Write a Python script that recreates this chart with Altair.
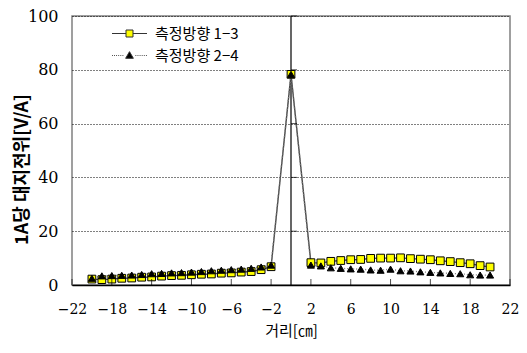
import altair as alt
import pandas as pd

x_vals = list(range(-20, -1)) + [0] + list(range(2, 21))
s13 = [2.2, 2.0, 2.2, 2.5, 2.6, 2.9, 3.0, 3.3, 3.5, 3.6, 3.8, 4.0, 4.1, 4.4, 4.5, 4.8, 5.0, 5.7, 6.8,
       78.3,
       8.3, 8.2, 8.8, 9.1, 9.4, 9.5, 9.9, 10.0, 10.0, 10.1, 9.8, 9.6, 9.4, 9.0, 8.7, 8.3, 7.9, 7.2, 6.7]
s24 = [2.5, 3.4, 3.5, 3.6, 3.7, 3.9, 4.2, 4.3, 4.5, 4.6, 4.8, 5.0, 5.3, 5.5, 5.7, 5.9, 6.2, 6.7, 7.4,
       78.3,
       7.4, 7.1, 6.4, 6.2, 6.0, 5.9, 5.6, 5.5, 5.9, 5.3, 5.2, 4.9, 4.7, 4.5, 4.3, 4.2, 3.8, 3.7, 3.7]
series_names = ["측정방향 1−3", "측정방향 2−4"]
x_ticks = [-22, -18, -14, -10, -6, -2, 2, 6, 10, 14, 18, 22]
y_ticks = [0, 20, 40, 60, 80, 100]

df13 = pd.DataFrame({"x": x_vals, "y": s13, "series": series_names[0]})
df24 = pd.DataFrame({"x": x_vals, "y": s24, "series": series_names[1]})

xs = alt.Scale(domain=[-22, 22], nice=False, zero=False)
ys = alt.Scale(domain=[0, 100], nice=False)

label_font = "DejaVu Serif"
kfont = "Noto Sans CJK KR"

x_enc = alt.X("x:Q", scale=xs, axis=alt.Axis(
    values=x_ticks, tickCount=len(x_ticks), ticks=False, grid=False,
    labelFont=label_font, labelFontSize=14,
    labelColor="black", labelPadding=17, labelOverlap=False, labelFlush=False,
    labelExpr="replace(datum.label, '-', '−')",
    domainColor="black", domainWidth=1.5,
    title="거리[㎝]", titleFont=kfont, titleFontSize=15, titleFontWeight="normal",
    titleColor="black", titleY=38, titleBaseline="top"))
y_enc = alt.Y("y:Q", scale=ys, axis=alt.Axis(
    values=y_ticks, ticks=False, grid=True, gridDash=[1, 2], gridColor="black",
    gridOpacity=1, gridWidth=1, labelFont=label_font, labelFontSize=16,
    labelColor="black", labelPadding=14, domain=False,
    title="1A당 대지전위[V/A]", titleFont=kfont, titleFontSize=18,
    titleFontWeight="bold", titleColor="black", titleX=-50, titleY=153,
    titleAlign="center", titleBaseline="middle"))

line13 = alt.Chart(df13).mark_line(color="#4a4a4a", strokeWidth=1.4).encode(x=x_enc, y=y_enc)
line24 = alt.Chart(df24).mark_line(color="#777777", strokeWidth=1.3, strokeDash=[1, 2]).encode(
    x="x:Q", y="y:Q")
pts13 = alt.Chart(df13).mark_point(shape="square", filled=True, fill="#FFFF00", stroke="black",
                                   strokeWidth=1, size=60, opacity=1).encode(x="x:Q", y="y:Q")
pts24 = alt.Chart(df24).mark_point(shape="triangle-up", filled=True, fill="black", stroke="black",
                                   strokeWidth=1, size=50, opacity=1).encode(x="x:Q", y="y:Q")

# legend symbols: marker with line segment through it
dots = "".join(f"M{v:.2f},0h0.12" for v in [-2.5, -2.2, -1.9, -1.6, -1.3, -1.0, 0.85, 1.15, 1.45, 1.75, 2.05, 2.35])
sym13 = "M-2.5,0H-0.5M0.5,0H2.5M-0.5,-0.5H0.5V0.5H-0.5Z"
sym24 = dots + "M0,-0.55L0.55,0.4H-0.55Z"

legend = alt.Legend(title=None, orient="none", legendX=50, legendY=10,
                    labelFont=kfont, labelFontSize=15, labelColor="black",
                    symbolStrokeWidth=1, symbolSize=196,
                    rowPadding=6, labelOffset=18)
legend_layer = alt.Chart(pd.concat([df13, df24])).transform_filter("false").mark_point(
    filled=True, opacity=1, strokeWidth=1).encode(
    x="x:Q", y="y:Q",
    shape=alt.Shape("series:N", scale=alt.Scale(domain=series_names, range=[sym13, sym24]),
                    legend=legend),
    fill=alt.Fill("series:N", scale=alt.Scale(domain=series_names, range=["#FFFF00", "black"]),
                  legend=legend),
    stroke=alt.Stroke("series:N", scale=alt.Scale(domain=series_names, range=["#333333", "#333333"]),
                      legend=legend),
)

xt = pd.DataFrame({"x": x_ticks})
xtick_marks = alt.Chart(xt).mark_tick(color="black", thickness=1, size=6,
                                       orient="vertical", yOffset=-3).encode(
    x="x:Q", y=alt.datum(0))
yt = pd.DataFrame({"y": y_ticks[1:]})
ytick_marks = alt.Chart(yt).mark_tick(color="black", thickness=1, size=6,
                                       orient="horizontal", xOffset=3).encode(
    y="y:Q", x=alt.datum(0))
vline = alt.Chart(pd.DataFrame({"x": [0]})).mark_rule(color="black", strokeWidth=1.2).encode(
    x="x:Q")

chart = alt.layer(vline, line13, line24, pts13, pts24, xtick_marks, ytick_marks,
                  legend_layer).properties(
    width=438, height=269,
    autosize=alt.AutoSizeParams(type="none"),
    padding={"left": 64, "top": 8, "right": 9, "bottom": 60},
    background="white",
).configure_view(stroke="#808080", strokeWidth=1.5)

chart.save("out.html", embed_options={"renderer": "svg", "actions": False})
